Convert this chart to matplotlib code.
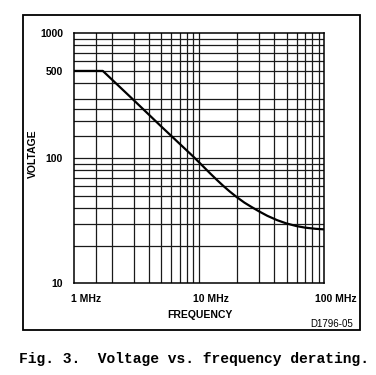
import matplotlib
matplotlib.use("Agg")
import matplotlib.pyplot as plt
import matplotlib.transforms as mtransforms
from matplotlib.patches import Rectangle

# ── Data ────────────────────────────────────────────────────────────────────
freq_mhz = [1.0, 1.7, 3.0, 5.0, 8.0, 9.0, 10.2, 11.2, 12.2, 14.0, 15.7, 17.5, 20.0,
            23.0, 26.0, 30.0, 35.0, 42.0, 50.0, 60.0, 70.0, 85.0, 100.0]
voltage = [500, 500, 292, 179, 115, 103, 90.9, 82.8, 76, 66.5, 59.8, 54.4, 48.9,
           44.2, 41.0, 37.7, 34.7, 32.0, 30.1, 28.7, 27.9, 27.3, 27.0]

y_ticks = [10, 100, 500, 1000]
y_tick_labels = ["10", "100", "500", "1000"]
x_ticks = [1, 10, 100]
x_tick_labels = ["1 MHz", "10 MHz", "100 MHz"]

# grid lines as printed on the original log paper
x_grid = [1.5, 2, 3, 4, 5, 6, 7, 8, 9, 10, 20, 30, 40, 50, 60, 70, 80, 90]
y_grid = [20, 30, 40, 50, 60, 70, 80, 90, 100, 150, 200, 250, 300, 400, 500, 600, 700, 800, 900]

FONT = "Liberation Sans"

fig = plt.figure(figsize=(3.76, 3.75), dpi=100)
ax = fig.add_axes([0.1968, 0.2445, 0.6657, 0.6667])

ax.set_xscale("log")
ax.set_yscale("log")
ax.set_xlim(1, 100)
ax.set_ylim(10, 1000)

for x in x_grid:
    ax.axvline(x, color="#1a1a1a", linewidth=0.9, zorder=1)
for y in y_grid:
    ax.axhline(y, color="#1a1a1a", linewidth=0.9, zorder=1)

ax.plot(freq_mhz, voltage, color="black", linewidth=1.6, zorder=3,
        solid_joinstyle="round")

# ── Ticks / labels ───────────────────────────────────────────────────────────
ax.minorticks_off()
ax.set_yticks(y_ticks)
ax.set_yticklabels(y_tick_labels, fontfamily=FONT, fontweight="bold", fontsize=7.5)
ax.set_xticks(x_ticks)
ax.set_xticklabels(x_tick_labels, fontfamily=FONT, fontweight="bold", fontsize=7.5)
ax.tick_params(axis="both", length=0)
ax.tick_params(axis="y", pad=8)
ax.tick_params(axis="x", pad=8)

shift = mtransforms.ScaledTranslation(0.12, 0, fig.dpi_scale_trans)
for lbl in ax.get_xticklabels():
    lbl.set_transform(lbl.get_transform() + shift)

for s in ax.spines.values():
    s.set_linewidth(1.1)
    s.set_color("black")

# axis titles placed like the printed figure
fig.text(33 / 376, 1 - 154 / 375, "VOLTAGE", rotation=90, fontfamily=FONT,
         fontweight="bold", fontsize=7.5, ha="center", va="center")
fig.text(200 / 376, 1 - 315.5 / 375, "FREQUENCY", fontfamily=FONT,
         fontweight="bold", fontsize=7.5, ha="center", va="center")

fig.text(353 / 376, 1 - 324 / 375, "D1796-05", fontfamily=FONT, fontsize=7,
         ha="right", va="center")

# outer frame around the figure
fig.patches.append(Rectangle((23 / 376, 1 - 330 / 375), (360 - 23) / 376, (330 - 15) / 375,
                             transform=fig.transFigure, fill=False,
                             edgecolor="black", linewidth=1.3))

fig.text(19 / 376, 1 - 359 / 375, "Fig. 3.  Voltage vs. frequency derating.",
         fontfamily="Liberation Mono", fontweight="bold", fontsize=10.5,
         ha="left", va="center")

fig.savefig("out.png", dpi=100)
